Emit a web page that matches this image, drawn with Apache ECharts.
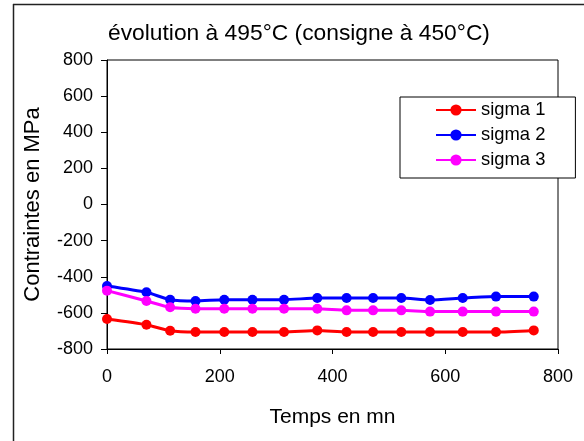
<!DOCTYPE html>
<html>
<head>
<meta charset="utf-8">
<script src="https://cdn.jsdelivr.net/npm/echarts@6/dist/echarts.min.js"></script>
<style>html,body{margin:0;padding:0;background:#fff}#c{width:584px;height:441px}</style>
</head>
<body>
<div id="c"></div>
<script>
var times = [0, 70, 112, 157, 208, 258, 314, 373, 425, 472, 522, 573, 631, 690, 757];
var sigma1 = [-634, -666, -699, -706, -706, -706, -706, -697, -706, -706, -706, -706, -706, -706, -697];
var sigma2 = [-451, -486, -527, -534, -527, -527, -527, -518, -518, -518, -518, -529, -518, -510, -510];
var sigma3 = [-477, -534, -569, -577, -577, -577, -577, -577, -586, -586, -586, -593, -593, -593, -593];
var seriesNames = ['sigma 1', 'sigma 2', 'sigma 3'];
var seriesColors = ['#FF0000', '#0000FF', '#FF00FF'];
var titleText = 'évolution à 495°C (consigne à 450°C)';
var xName = 'Temps en mn';
var yName = 'Contraintes en MPa';

function pairs(vals) { return times.map(function (t, i) { return [t, vals[i]]; }); }
var allVals = [sigma1, sigma2, sigma3];
var FONT = '"Liberation Sans", Arial, sans-serif';

var chart = echarts.init(document.getElementById('c'));
chart.setOption({
  backgroundColor: '#fff',
  animation: false,
  title: {
    text: titleText, left: 108, top: 22, padding: 0,
    textStyle: { fontFamily: FONT, fontSize: 22.8, fontWeight: 'normal', color: '#000' }
  },
  legend: {
    orient: 'vertical', left: 400, top: 97,
    padding: [3, 30, 8, 35],
    borderColor: '#000', borderWidth: 1, backgroundColor: '#fff',
    itemWidth: 40, itemHeight: 14, itemGap: 5, itemTextGap: 3,
    textStyle: { fontFamily: FONT, fontSize: 18.4, color: '#000', lineHeight: 20 },
    data: seriesNames
  },
  grid: { left: 107, top: 60, right: 26, bottom: 92, show: true, borderColor: '#000', borderWidth: 1, containLabel: false },
  xAxis: {
    type: 'value', min: 0, max: 800, interval: 200,
    name: xName, nameLocation: 'middle', nameGap: 58,
    nameTextStyle: { fontFamily: FONT, fontSize: 21, color: '#000' },
    axisLine: { onZero: false, lineStyle: { color: '#000', width: 1 } },
    axisTick: { show: true, inside: false, length: 5, lineStyle: { color: '#000' } },
    axisLabel: { fontFamily: FONT, fontSize: 18, color: '#000', margin: 19 },
    splitLine: { show: false }
  },
  yAxis: {
    type: 'value', min: -800, max: 800, interval: 200,
    name: yName, nameLocation: 'middle', nameGap: 63, nameRotate: 90,
    nameTextStyle: { fontFamily: FONT, fontSize: 22, color: '#000' },
    axisLine: { show: true, onZero: false, lineStyle: { color: '#000', width: 1 } },
    axisTick: { show: true, inside: false, length: 6, lineStyle: { color: '#000' } },
    axisLabel: { fontFamily: FONT, fontSize: 18, color: '#000', margin: 14 },
    splitLine: { show: false }
  },
  series: seriesNames.map(function (n, i) {
    return {
      name: n, type: 'line', data: pairs(allVals[i]),
      smooth: 0.2, symbol: 'circle', symbolSize: 10,
      lineStyle: { color: seriesColors[i], width: 3 },
      itemStyle: { color: seriesColors[i] }
    };
  }),
  graphic: [
    { type: 'line', shape: { x1: 13.5, y1: 4, x2: 13.5, y2: 441 }, style: { stroke: '#222', lineWidth: 1.5 } },
    { type: 'line', shape: { x1: 13, y1: 4.5, x2: 584, y2: 4.5 }, style: { stroke: '#222', lineWidth: 1.5 } }
  ]
});
</script>
</body>
</html>
